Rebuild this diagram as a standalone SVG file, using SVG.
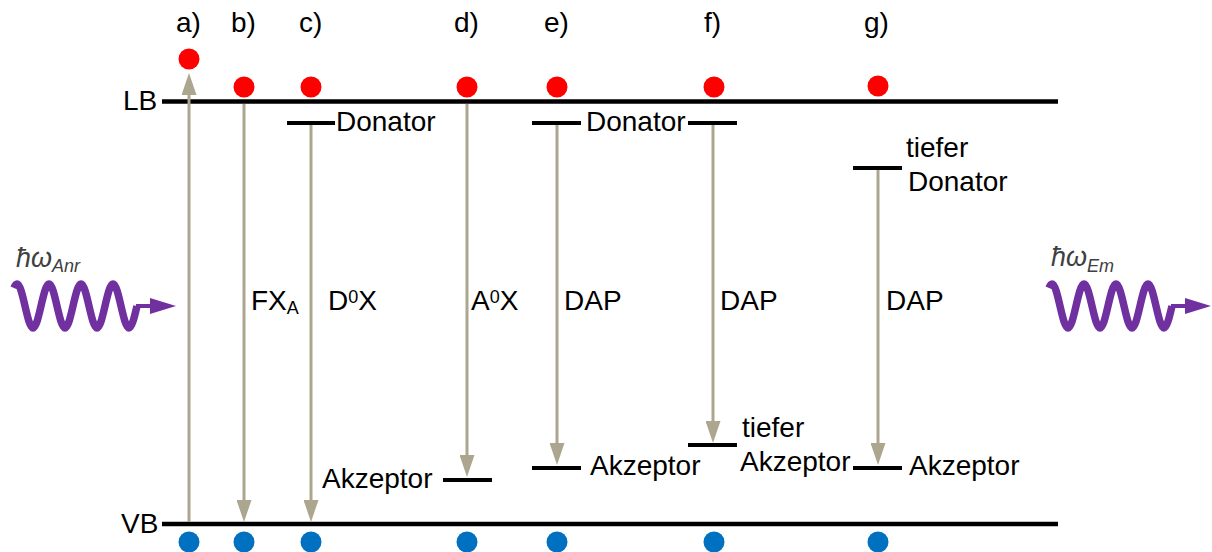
<svg xmlns="http://www.w3.org/2000/svg" width="1212" height="552" viewBox="0 0 1212 552">
  <style>
    text { font-family: "Liberation Sans", Arial, sans-serif; font-size: 28px; fill: #000; }
    .photon-label { font-style: italic; font-size: 27px; fill: #404040; }
    .photon-sub { font-style: italic; font-size: 18px; fill: #404040; }
    .small { font-size: 18px; }
    .band { stroke: #000; stroke-width: 4.5; fill: none; }
    .level { stroke: #000; stroke-width: 4; fill: none; }
    .trans { stroke: #ada68f; stroke-width: 3; fill: none; marker-end: url(#head); }
    .e { fill: #ff0000; }
    .h { fill: #0070c0; }
    .wave { stroke: #7030a0; stroke-width: 7.5; fill: none; }
    .wave-tail { stroke: #7030a0; stroke-width: 4; fill: none; marker-end: url(#photon-head); }
  </style>
  <defs>
    <marker id="head" markerUnits="userSpaceOnUse" markerWidth="22" markerHeight="15" viewBox="0 0 22 15" refX="2" refY="7.5" orient="auto">
      <path d="M0,0 L22,7.5 L0,15 z" fill="#ada68f"/>
    </marker>
    <marker id="photon-head" markerUnits="userSpaceOnUse" markerWidth="26" markerHeight="16" viewBox="0 0 26 16" refX="1" refY="8" orient="auto">
      <path d="M0,0 L26,8 L0,16 z" fill="#7030a0"/>
    </marker>
    <g id="photon">
      <path class="wave" d="M14,288 C15,285.5 16,284 17,284 C22.8,284 27.2,328 33,328 C38.8,328 43.2,284 49,284 C54.8,284 59.2,328 65,328 C70.8,328 75.2,284 81,284 C86.8,284 91.2,328 97,328 C102.8,328 107.2,284 113,284 C118.8,284 123.2,328 129,328 C132,328 135,314.6 137,306"/>
      <path class="wave-tail" d="M136,306 H151"/>
    </g>
  </defs>

  <!-- energy bands -->
  <g id="bands">
    <path class="band" d="M162,101.5 H1058"/>
    <path class="band" d="M162,524 H1058"/>
    <text x="123" y="110">LB</text>
    <text x="121" y="533">VB</text>
  </g>

  <!-- column labels -->
  <g id="labels">
    <text x="176" y="32">a)</text>
    <text x="231" y="32">b)</text>
    <text x="299" y="32">c)</text>
    <text x="454" y="32">d)</text>
    <text x="544" y="32">e)</text>
    <text x="704" y="32">f)</text>
    <text x="864" y="32">g)</text>
  </g>

  <!-- impurity levels -->
  <g id="levels">
    <path class="level" d="M287,123 H335"/>
    <path class="level" d="M532,123 H581"/>
    <path class="level" d="M688,123 H737"/>
    <path class="level" d="M853,168 H902"/>
    <path class="level" d="M443,480 H492"/>
    <path class="level" d="M532,468 H581"/>
    <path class="level" d="M688,445 H737"/>
    <path class="level" d="M853,468 H902"/>
    <text x="336" y="131">Donator</text>
    <text x="586" y="131">Donator</text>
    <text x="906" y="157">tiefer</text>
    <text x="908" y="191">Donator</text>
    <text x="322" y="488">Akzeptor</text>
    <text x="590" y="475">Akzeptor</text>
    <text x="742" y="437">tiefer</text>
    <text x="740" y="471">Akzeptor</text>
    <text x="909" y="475">Akzeptor</text>
  </g>

  <!-- carriers -->
  <g id="electrons">
    <circle class="e" cx="189" cy="59" r="10.5"/>
    <circle class="e" cx="244" cy="87" r="10.5"/>
    <circle class="e" cx="311" cy="87" r="10.5"/>
    <circle class="e" cx="467" cy="87" r="10.5"/>
    <circle class="e" cx="557" cy="87" r="10.5"/>
    <circle class="e" cx="714" cy="87" r="10.5"/>
    <circle class="e" cx="878" cy="86" r="10.5"/>
  </g>
  <g id="holes">
    <circle class="h" cx="189" cy="542" r="10.5"/>
    <circle class="h" cx="244" cy="542" r="10.5"/>
    <circle class="h" cx="311" cy="542" r="10.5"/>
    <circle class="h" cx="467" cy="542" r="10.5"/>
    <circle class="h" cx="557" cy="542" r="10.5"/>
    <circle class="h" cx="714" cy="542" r="10.5"/>
    <circle class="h" cx="878" cy="542" r="10.5"/>
  </g>

  <!-- transitions -->
  <g id="connectors">
    <path class="trans" d="M189,522 V93"/>
    <path class="trans" d="M244,104 V502"/>
    <path class="trans" d="M311,125 V502"/>
    <path class="trans" d="M467,104 V457"/>
    <path class="trans" d="M557,125 V445"/>
    <path class="trans" d="M713,125 V423"/>
    <path class="trans" d="M878,170 V445"/>
  </g>

  <g id="transition-labels">
    <text x="251" y="310">FX<tspan class="small" dy="4">A</tspan></text>
    <text x="328" y="310">D<tspan class="small" dy="-7">0</tspan><tspan dy="7">X</tspan></text>
    <text x="471" y="310">A<tspan class="small" dy="-7">0</tspan><tspan dy="7">X</tspan></text>
    <text x="564" y="310">DAP</text>
    <text x="720" y="310">DAP</text>
    <text x="886" y="310">DAP</text>
  </g>

  <!-- incoming and emitted photons -->
  <g id="photon-in">
    <use href="#photon"/>
    <text class="photon-label" x="16" y="267">ħω<tspan class="photon-sub" dy="5">Anr</tspan></text>
  </g>
  <g id="photon-out">
    <use href="#photon" transform="translate(1035,0)"/>
    <text class="photon-label" x="1051" y="266">ħω<tspan class="photon-sub" dy="6">Em</tspan></text>
  </g>
</svg>
